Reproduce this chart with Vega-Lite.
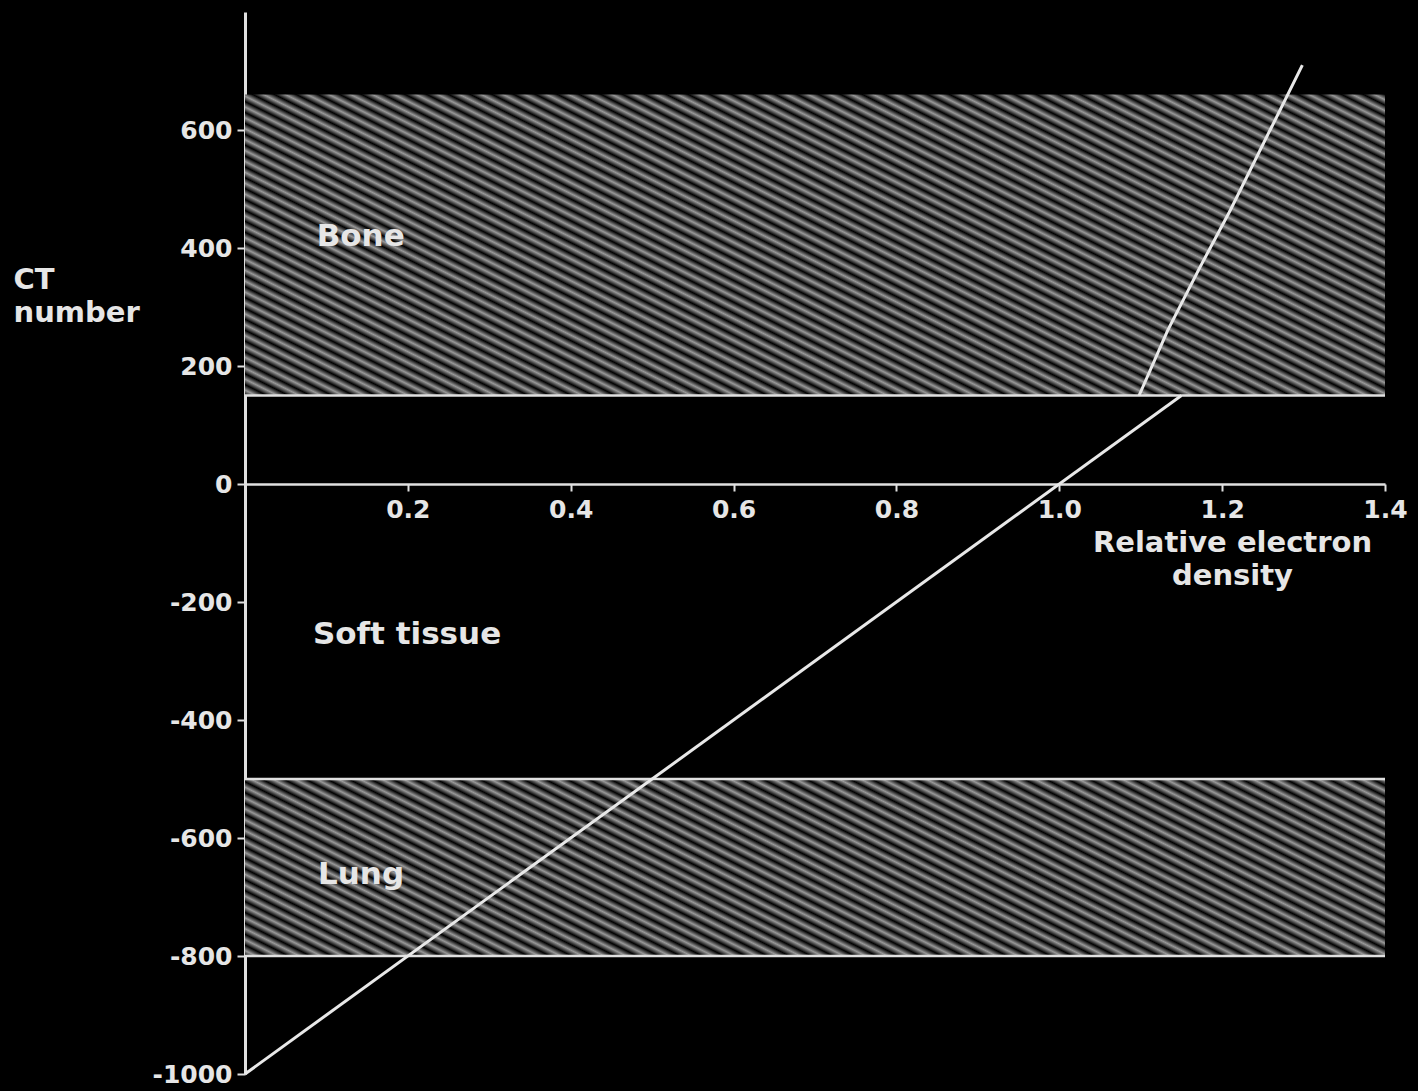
{
  "$schema": "https://vega.github.io/schema/vega-lite/v6.json",
  "width": 1140,
  "height": 1062,
  "autosize": "none",
  "padding": {"left": 245, "top": 12, "right": 33, "bottom": 17},
  "background": "#000000",
  "config": {"view": {"stroke": null}},
  "encoding": {
    "x": {
      "field": "rho", "type": "quantitative",
      "scale": {"domain": [0, 1.4], "nice": false, "zero": false},
      "axis": {
        "values": [0.2, 0.4, 0.6, 0.8, 1.0, 1.2, 1.4], "format": ".1f", "offset": -590, "grid": false,
        "domainColor": "#e0e0e0", "domainWidth": 2.5, "tickColor": "#e0e0e0", "tickSize": 7, "tickWidth": 2,
        "labelColor": "#e6e6e6", "labelFont": "DejaVu Sans", "labelFontWeight": "bold", "labelFontSize": 25,
        "labelPadding": 6, "labelFlush": false,
        "title": ["Relative electron", "density"], "titleX": 987, "titleY": 44, "titleAlign": "center",
        "titleBaseline": "top", "titleAnchor": null, "titleFontSize": 29, "titleLineHeight": 33,
        "titleColor": "#e6e6e6", "titleFont": "DejaVu Sans", "titleFontWeight": "bold"
      }
    },
    "y": {
      "field": "ct", "type": "quantitative",
      "scale": {"domain": [-1000, 800], "nice": false, "zero": false},
      "axis": {
        "values": [-1000, -800, -600, -400, -200, 0, 200, 400, 600], "grid": false,
        "labelExpr": "datum.value < 0 ? '-' + abs(datum.value) : '' + datum.value",
        "domainColor": "#e0e0e0", "domainWidth": 3, "tickColor": "#e0e0e0", "tickSize": 8, "tickWidth": 2,
        "labelColor": "#e6e6e6", "labelFont": "DejaVu Sans", "labelFontWeight": "bold", "labelFontSize": 25,
        "labelPadding": 5, "labelFlush": false,
        "title": ["CT", "number"], "titleAngle": 0, "titleAlign": "left", "titleBaseline": "top",
        "titleX": -232, "titleY": 253, "titleAnchor": null, "titleFontSize": 29, "titleLineHeight": 33,
        "titleColor": "#e6e6e6", "titleFont": "DejaVu Sans", "titleFontWeight": "bold"
      }
    }
  },
  "layer": [
    {
      "data": {"values": [{"region": "Bone", "rho": 0, "rho2": 1.4, "ct": 150, "ct2": 660}]},
      "mark": {"type": "rect", "fill": {"gradient": "linear", "x1": 0, "y1": 1, "x2": 1.494, "y2": 0.2111, "stops": [
        {"offset":0,"color":"#000"},{"offset":0.005,"color":"#999"},{"offset":0.01,"color":"#000"},{"offset":0.015,"color":"#999"},{"offset":0.02,"color":"#000"},{"offset":0.025,"color":"#999"},{"offset":0.03,"color":"#000"},{"offset":0.035,"color":"#999"},{"offset":0.04,"color":"#000"},{"offset":0.045,"color":"#999"},
        {"offset":0.05,"color":"#000"},{"offset":0.055,"color":"#999"},{"offset":0.06,"color":"#000"},{"offset":0.065,"color":"#999"},{"offset":0.07,"color":"#000"},{"offset":0.075,"color":"#999"},{"offset":0.08,"color":"#000"},{"offset":0.085,"color":"#999"},{"offset":0.09,"color":"#000"},{"offset":0.095,"color":"#999"},
        {"offset":0.1,"color":"#000"},{"offset":0.105,"color":"#999"},{"offset":0.11,"color":"#000"},{"offset":0.115,"color":"#999"},{"offset":0.12,"color":"#000"},{"offset":0.125,"color":"#999"},{"offset":0.13,"color":"#000"},{"offset":0.135,"color":"#999"},{"offset":0.14,"color":"#000"},{"offset":0.145,"color":"#999"},
        {"offset":0.15,"color":"#000"},{"offset":0.155,"color":"#999"},{"offset":0.16,"color":"#000"},{"offset":0.165,"color":"#999"},{"offset":0.17,"color":"#000"},{"offset":0.175,"color":"#999"},{"offset":0.18,"color":"#000"},{"offset":0.185,"color":"#999"},{"offset":0.19,"color":"#000"},{"offset":0.195,"color":"#999"},
        {"offset":0.2,"color":"#000"},{"offset":0.205,"color":"#999"},{"offset":0.21,"color":"#000"},{"offset":0.215,"color":"#999"},{"offset":0.22,"color":"#000"},{"offset":0.225,"color":"#999"},{"offset":0.23,"color":"#000"},{"offset":0.235,"color":"#999"},{"offset":0.24,"color":"#000"},{"offset":0.245,"color":"#999"},
        {"offset":0.25,"color":"#000"},{"offset":0.255,"color":"#999"},{"offset":0.26,"color":"#000"},{"offset":0.265,"color":"#999"},{"offset":0.27,"color":"#000"},{"offset":0.275,"color":"#999"},{"offset":0.28,"color":"#000"},{"offset":0.285,"color":"#999"},{"offset":0.29,"color":"#000"},{"offset":0.295,"color":"#999"},
        {"offset":0.3,"color":"#000"},{"offset":0.305,"color":"#999"},{"offset":0.31,"color":"#000"},{"offset":0.315,"color":"#999"},{"offset":0.32,"color":"#000"},{"offset":0.325,"color":"#999"},{"offset":0.33,"color":"#000"},{"offset":0.335,"color":"#999"},{"offset":0.34,"color":"#000"},{"offset":0.345,"color":"#999"},
        {"offset":0.35,"color":"#000"},{"offset":0.355,"color":"#999"},{"offset":0.36,"color":"#000"},{"offset":0.365,"color":"#999"},{"offset":0.37,"color":"#000"},{"offset":0.375,"color":"#999"},{"offset":0.38,"color":"#000"},{"offset":0.385,"color":"#999"},{"offset":0.39,"color":"#000"},{"offset":0.395,"color":"#999"},
        {"offset":0.4,"color":"#000"},{"offset":0.405,"color":"#999"},{"offset":0.41,"color":"#000"},{"offset":0.415,"color":"#999"},{"offset":0.42,"color":"#000"},{"offset":0.425,"color":"#999"},{"offset":0.43,"color":"#000"},{"offset":0.435,"color":"#999"},{"offset":0.44,"color":"#000"},{"offset":0.445,"color":"#999"},
        {"offset":0.45,"color":"#000"},{"offset":0.455,"color":"#999"},{"offset":0.46,"color":"#000"},{"offset":0.465,"color":"#999"},{"offset":0.47,"color":"#000"},{"offset":0.475,"color":"#999"},{"offset":0.48,"color":"#000"},{"offset":0.485,"color":"#999"},{"offset":0.49,"color":"#000"},{"offset":0.495,"color":"#999"},
        {"offset":0.5,"color":"#000"},{"offset":0.505,"color":"#999"},{"offset":0.51,"color":"#000"},{"offset":0.515,"color":"#999"},{"offset":0.52,"color":"#000"},{"offset":0.525,"color":"#999"},{"offset":0.53,"color":"#000"},{"offset":0.535,"color":"#999"},{"offset":0.54,"color":"#000"},{"offset":0.545,"color":"#999"},
        {"offset":0.55,"color":"#000"},{"offset":0.555,"color":"#999"},{"offset":0.56,"color":"#000"},{"offset":0.565,"color":"#999"},{"offset":0.57,"color":"#000"},{"offset":0.575,"color":"#999"},{"offset":0.58,"color":"#000"},{"offset":0.585,"color":"#999"},{"offset":0.59,"color":"#000"},{"offset":0.595,"color":"#999"},
        {"offset":0.6,"color":"#000"},{"offset":0.605,"color":"#999"},{"offset":0.61,"color":"#000"},{"offset":0.615,"color":"#999"},{"offset":0.62,"color":"#000"},{"offset":0.625,"color":"#999"},{"offset":0.63,"color":"#000"},{"offset":0.635,"color":"#999"},{"offset":0.64,"color":"#000"},{"offset":0.645,"color":"#999"},
        {"offset":0.65,"color":"#000"},{"offset":0.655,"color":"#999"},{"offset":0.66,"color":"#000"},{"offset":0.665,"color":"#999"},{"offset":0.67,"color":"#000"},{"offset":0.675,"color":"#999"},{"offset":0.68,"color":"#000"},{"offset":0.685,"color":"#999"},{"offset":0.69,"color":"#000"},{"offset":0.695,"color":"#999"},
        {"offset":0.7,"color":"#000"},{"offset":0.705,"color":"#999"},{"offset":0.71,"color":"#000"},{"offset":0.715,"color":"#999"},{"offset":0.72,"color":"#000"},{"offset":0.725,"color":"#999"},{"offset":0.73,"color":"#000"},{"offset":0.735,"color":"#999"},{"offset":0.74,"color":"#000"},{"offset":0.745,"color":"#999"},
        {"offset":0.75,"color":"#000"},{"offset":0.755,"color":"#999"},{"offset":0.76,"color":"#000"},{"offset":0.765,"color":"#999"},{"offset":0.77,"color":"#000"},{"offset":0.775,"color":"#999"},{"offset":0.78,"color":"#000"},{"offset":0.785,"color":"#999"},{"offset":0.79,"color":"#000"},{"offset":0.795,"color":"#999"},
        {"offset":0.8,"color":"#000"}
      ]}},
      "encoding": {"x2": {"field": "rho2"}, "y2": {"field": "ct2"}}
    },
    {
      "data": {"values": [{"region": "Lung", "rho": 0, "rho2": 1.4, "ct": -800, "ct2": -500}]},
      "mark": {"type": "rect", "fill": {"gradient": "linear", "x1": 0, "y1": 1, "x2": 1.7426, "y2": 0.459, "stops": [
        {"offset":0,"color":"#000"},{"offset":0.005,"color":"#999"},{"offset":0.01,"color":"#000"},{"offset":0.015,"color":"#999"},{"offset":0.02,"color":"#000"},{"offset":0.025,"color":"#999"},{"offset":0.03,"color":"#000"},{"offset":0.035,"color":"#999"},{"offset":0.04,"color":"#000"},{"offset":0.045,"color":"#999"},
        {"offset":0.05,"color":"#000"},{"offset":0.055,"color":"#999"},{"offset":0.06,"color":"#000"},{"offset":0.065,"color":"#999"},{"offset":0.07,"color":"#000"},{"offset":0.075,"color":"#999"},{"offset":0.08,"color":"#000"},{"offset":0.085,"color":"#999"},{"offset":0.09,"color":"#000"},{"offset":0.095,"color":"#999"},
        {"offset":0.1,"color":"#000"},{"offset":0.105,"color":"#999"},{"offset":0.11,"color":"#000"},{"offset":0.115,"color":"#999"},{"offset":0.12,"color":"#000"},{"offset":0.125,"color":"#999"},{"offset":0.13,"color":"#000"},{"offset":0.135,"color":"#999"},{"offset":0.14,"color":"#000"},{"offset":0.145,"color":"#999"},
        {"offset":0.15,"color":"#000"},{"offset":0.155,"color":"#999"},{"offset":0.16,"color":"#000"},{"offset":0.165,"color":"#999"},{"offset":0.17,"color":"#000"},{"offset":0.175,"color":"#999"},{"offset":0.18,"color":"#000"},{"offset":0.185,"color":"#999"},{"offset":0.19,"color":"#000"},{"offset":0.195,"color":"#999"},
        {"offset":0.2,"color":"#000"},{"offset":0.205,"color":"#999"},{"offset":0.21,"color":"#000"},{"offset":0.215,"color":"#999"},{"offset":0.22,"color":"#000"},{"offset":0.225,"color":"#999"},{"offset":0.23,"color":"#000"},{"offset":0.235,"color":"#999"},{"offset":0.24,"color":"#000"},{"offset":0.245,"color":"#999"},
        {"offset":0.25,"color":"#000"},{"offset":0.255,"color":"#999"},{"offset":0.26,"color":"#000"},{"offset":0.265,"color":"#999"},{"offset":0.27,"color":"#000"},{"offset":0.275,"color":"#999"},{"offset":0.28,"color":"#000"},{"offset":0.285,"color":"#999"},{"offset":0.29,"color":"#000"},{"offset":0.295,"color":"#999"},
        {"offset":0.3,"color":"#000"},{"offset":0.305,"color":"#999"},{"offset":0.31,"color":"#000"},{"offset":0.315,"color":"#999"},{"offset":0.32,"color":"#000"},{"offset":0.325,"color":"#999"},{"offset":0.33,"color":"#000"},{"offset":0.335,"color":"#999"},{"offset":0.34,"color":"#000"},{"offset":0.345,"color":"#999"},
        {"offset":0.35,"color":"#000"},{"offset":0.355,"color":"#999"},{"offset":0.36,"color":"#000"},{"offset":0.365,"color":"#999"},{"offset":0.37,"color":"#000"},{"offset":0.375,"color":"#999"},{"offset":0.38,"color":"#000"},{"offset":0.385,"color":"#999"},{"offset":0.39,"color":"#000"},{"offset":0.395,"color":"#999"},
        {"offset":0.4,"color":"#000"},{"offset":0.405,"color":"#999"},{"offset":0.41,"color":"#000"},{"offset":0.415,"color":"#999"},{"offset":0.42,"color":"#000"},{"offset":0.425,"color":"#999"},{"offset":0.43,"color":"#000"},{"offset":0.435,"color":"#999"},{"offset":0.44,"color":"#000"},{"offset":0.445,"color":"#999"},
        {"offset":0.45,"color":"#000"},{"offset":0.455,"color":"#999"},{"offset":0.46,"color":"#000"},{"offset":0.465,"color":"#999"},{"offset":0.47,"color":"#000"},{"offset":0.475,"color":"#999"},{"offset":0.48,"color":"#000"},{"offset":0.485,"color":"#999"},{"offset":0.49,"color":"#000"},{"offset":0.495,"color":"#999"},
        {"offset":0.5,"color":"#000"},{"offset":0.505,"color":"#999"},{"offset":0.51,"color":"#000"},{"offset":0.515,"color":"#999"},{"offset":0.52,"color":"#000"},{"offset":0.525,"color":"#999"},{"offset":0.53,"color":"#000"},{"offset":0.535,"color":"#999"},{"offset":0.54,"color":"#000"},{"offset":0.545,"color":"#999"},
        {"offset":0.55,"color":"#000"},{"offset":0.555,"color":"#999"},{"offset":0.56,"color":"#000"},{"offset":0.565,"color":"#999"},{"offset":0.57,"color":"#000"},{"offset":0.575,"color":"#999"},{"offset":0.58,"color":"#000"},{"offset":0.585,"color":"#999"},{"offset":0.59,"color":"#000"},{"offset":0.595,"color":"#999"},
        {"offset":0.6,"color":"#000"},{"offset":0.605,"color":"#999"},{"offset":0.61,"color":"#000"},{"offset":0.615,"color":"#999"},{"offset":0.62,"color":"#000"},{"offset":0.625,"color":"#999"},{"offset":0.63,"color":"#000"},{"offset":0.635,"color":"#999"},{"offset":0.64,"color":"#000"},{"offset":0.645,"color":"#999"},
        {"offset":0.65,"color":"#000"},{"offset":0.655,"color":"#999"},{"offset":0.66,"color":"#000"},{"offset":0.665,"color":"#999"},{"offset":0.67,"color":"#000"},{"offset":0.675,"color":"#999"},{"offset":0.68,"color":"#000"},{"offset":0.685,"color":"#999"},{"offset":0.69,"color":"#000"},{"offset":0.695,"color":"#999"},
        {"offset":0.7,"color":"#000"},{"offset":0.705,"color":"#999"},{"offset":0.71,"color":"#000"}
      ]}},
      "encoding": {"x2": {"field": "rho2"}, "y2": {"field": "ct2"}}
    },
    {
      "data": {"values": [
        {"boundary": "bone lower", "rho": 0, "rho2": 1.4, "ct": 150},
        {"boundary": "lung upper", "rho": 0, "rho2": 1.4, "ct": -500},
        {"boundary": "lung lower", "rho": 0, "rho2": 1.4, "ct": -800}
      ]},
      "mark": {"type": "rule", "stroke": "#e0e0e0", "strokeWidth": 2.5},
      "encoding": {"x2": {"field": "rho2"}}
    },
    {
      "data": {"values": [
        {"series": "soft tissue", "rho": 0, "ct": -1000},
        {"series": "soft tissue", "rho": 1.15, "ct": 150},
        {"series": "bone", "rho": 1.098, "ct": 150},
        {"series": "bone", "rho": 1.133, "ct": 260},
        {"series": "bone", "rho": 1.173, "ct": 368},
        {"series": "bone", "rho": 1.21, "ct": 464},
        {"series": "bone", "rho": 1.2985, "ct": 710}
      ]},
      "mark": {"type": "line", "stroke": "#e8e8e8", "strokeWidth": 3},
      "encoding": {"detail": {"field": "series"}}
    },
    {
      "data": {"values": [
        {"label": "Bone", "rho": 0.088, "ct": 419},
        {"label": "Soft tissue", "rho": 0.0835, "ct": -256},
        {"label": "Lung", "rho": 0.0897, "ct": -663}
      ]},
      "mark": {"type": "text", "align": "left", "baseline": "middle", "font": "DejaVu Sans", "fontWeight": "bold", "fontSize": 31, "fill": "#e6e6e6"},
      "encoding": {"text": {"field": "label"}}
    }
  ]
}
